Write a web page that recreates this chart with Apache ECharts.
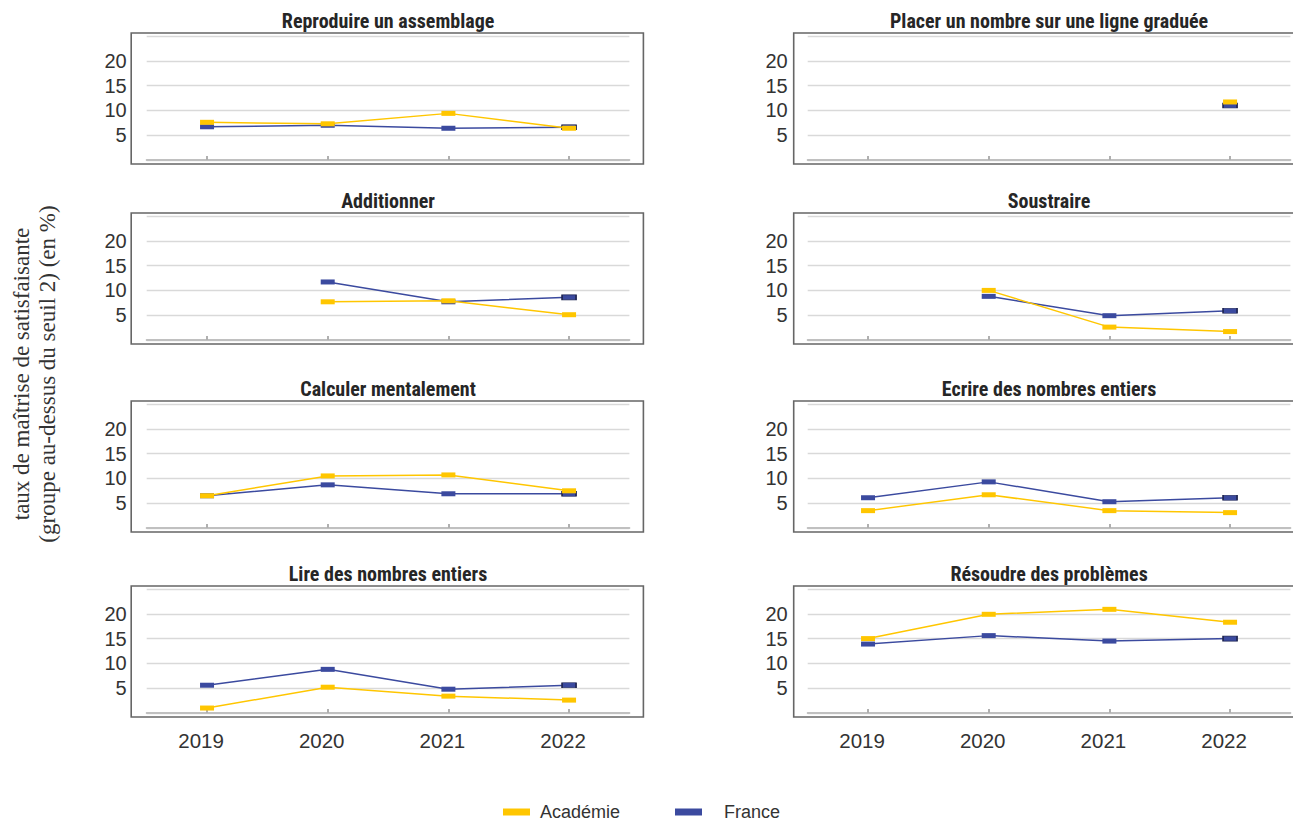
<!DOCTYPE html>
<html>
<head>
<meta charset="utf-8">
<script src="https://cdn.jsdelivr.net/npm/echarts@6/dist/echarts.min.js"></script>
<style>
html,body{margin:0;padding:0;background:#fff;}
#chart{width:1293px;height:822px;}
</style>
</head>
<body>
<div id="chart"></div>
<script>
// ---- data ----
const categories = ['2019', '2020', '2021', '2022'];
const panelTitles = [
  'Reproduire un assemblage',
  'Placer un nombre sur une ligne graduée',
  'Additionner',
  'Soustraire',
  'Calculer mentalement',
  'Ecrire des nombres entiers',
  'Lire des nombres entiers',
  'Résoudre des problèmes'
];
const reproduireAcad = [7.6, 7.3, 9.4, 6.4];
const reproduireFr   = [6.7, 7.0, 6.4, 6.6];
const placerAcad     = [null, null, null, 11.7];
const placerFr       = [null, null, null, 11.0];
const additionnerAcad = [null, 7.7, 7.9, 5.1];
const additionnerFr   = [null, 11.7, 7.7, 8.6];
const soustraireAcad  = [null, 10.0, 2.6, 1.7];
const soustraireFr    = [null, 8.8, 4.9, 5.9];
const calculerAcad    = [6.5, 10.5, 10.7, 7.5];
const calculerFr      = [6.5, 8.7, 6.9, 6.9];
const ecrireAcad      = [3.5, 6.7, 3.5, 3.1];
const ecrireFr        = [6.1, 9.3, 5.3, 6.1];
const lireAcad        = [1.0, 5.2, 3.4, 2.6];
const lireFr          = [5.6, 8.8, 4.8, 5.6];
const resoudreAcad    = [15.0, 19.9, 20.9, 18.3];
const resoudreFr      = [13.9, 15.6, 14.5, 15.0];
const yTicks = [5, 10, 15, 20];
const seriesNames = ['Académie', 'France'];
const yAxisName = 'taux de maîtrise de satisfaisante\n(groupe au-dessus du seuil 2) (en %)';

const academie = [reproduireAcad, placerAcad, additionnerAcad, soustraireAcad, calculerAcad, ecrireAcad, lireAcad, resoudreAcad];
const france = [reproduireFr, placerFr, additionnerFr, soustraireFr, calculerFr, ecrireFr, lireFr, resoudreFr];

// ---- layout ----
const colLeft = [146.7, 807.7];
const gridW = 482.7;
const rowTop = [36, 216, 404, 589];
const gridH = 124;
const YELLOW = '#FFC600';
const BLUE = '#3B4A9F';
const labelFont = "'Liberation Sans', Arial, sans-serif";
const titleFont = "'Liberation Sans Narrow', 'Roboto Condensed', 'DejaVu Sans Condensed', sans-serif";

const grids = [], xAxes = [], yAxes = [], titles = [], series = [], graphics = [];
for (let i = 0; i < 8; i++) {
  const r = Math.floor(i / 2), c = i % 2;
  const left = colLeft[c], top = rowTop[r];
  grids.push({ left: left, top: top, width: gridW, height: gridH, containLabel: false });
  xAxes.push({
    type: 'category', gridIndex: i, data: categories, boundaryGap: true,
    axisLine: { show: true, lineStyle: { color: '#c0c0c0', width: 2 } },
    axisTick: { show: true, inside: true, alignWithLabel: true, length: 4, lineStyle: { color: '#b0b0b0', width: 2 } },
    axisLabel: { show: r === 3, fontSize: 20.5, color: '#333', fontFamily: labelFont, margin: 17, padding: [0, 12, 0, 0] },
    splitLine: { show: false }
  });
  yAxes.push({
    type: 'value', gridIndex: i, min: 0, max: 25, interval: 5,
    axisLine: { show: false }, axisTick: { show: false },
    axisLabel: {
      fontSize: 20, color: '#333', fontFamily: labelFont, margin: 20,
      formatter: v => (yTicks.indexOf(v) >= 0 ? String(v) : '')
    },
    splitLine: { show: true, lineStyle: { color: '#d9d9d9', width: 1.3 } }
  });
  titles.push({
    text: panelTitles[i], left: left + gridW / 2, top: top - 25.5, textAlign: 'center', padding: 0,
    textStyle: { fontSize: 20, fontWeight: 'bold', color: '#262626', fontFamily: titleFont }
  });
  // frame around each panel
  graphics.push({
    type: 'rect', silent: true, z: 0,
    shape: { x: c === 0 ? left - 15.5 : left - 14, y: top - 3, width: c === 0 ? gridW + 29.5 : gridW + 40, height: gridH + 7 },
    style: { fill: 'none', stroke: '#666', lineWidth: 1.6 }
  });
  const frData = france[i].map((v, k) => (k === 3 && v != null) ? { value: v, itemStyle: { borderColor: '#1f2550', borderWidth: 1 } } : v);
  series.push({
    name: seriesNames[1], type: 'line', xAxisIndex: i, yAxisIndex: i, data: frData,
    symbol: 'rect', symbolSize: [14, 5], showSymbol: true, connectNulls: false,
    lineStyle: { color: BLUE, width: 1.5 }, itemStyle: { color: BLUE }, z: 3
  });
  series.push({
    name: seriesNames[0], type: 'line', xAxisIndex: i, yAxisIndex: i, data: academie[i],
    symbol: 'rect', symbolSize: [14, 5], showSymbol: true, connectNulls: false,
    lineStyle: { color: YELLOW, width: 1.5 }, itemStyle: { color: YELLOW }, z: 4
  });
}

graphics.push({
  type: 'text', silent: true, x: 34, y: 374, rotation: Math.PI / 2,
  style: {
    text: yAxisName, font: "23px 'Liberation Serif', 'Times New Roman', serif",
    fill: '#333', align: 'center', verticalAlign: 'middle', lineHeight: 26
  }
});

const legendCommon = {
  padding: 0, icon: 'rect', itemWidth: 27, itemHeight: 7, top: 803,
  textStyle: { fontSize: 18, color: '#333', fontFamily: labelFont }
};

const chart = echarts.init(document.getElementById('chart'), null, { renderer: 'svg' });
chart.setOption({
  animation: false,
  backgroundColor: '#fff',
  title: titles,
  grid: grids,
  xAxis: xAxes,
  yAxis: yAxes,
  legend: [
    Object.assign({}, legendCommon, { data: [seriesNames[0]], left: 503,
      textStyle: Object.assign({}, legendCommon.textStyle, { padding: [0, 0, 0, 5] }) }),
    Object.assign({}, legendCommon, { data: [seriesNames[1]], left: 675,
      textStyle: Object.assign({}, legendCommon.textStyle, { padding: [0, 0, 0, 17] }) })
  ],
  graphic: graphics,
  series: series
});
</script>
</body>
</html>
